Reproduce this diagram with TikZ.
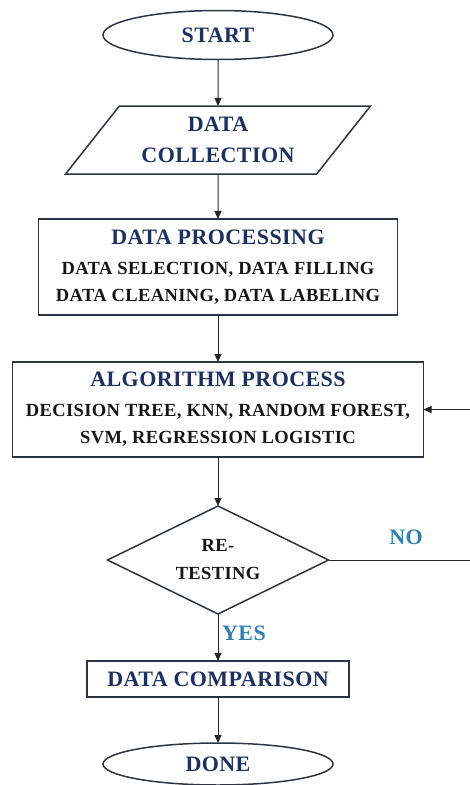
\documentclass[tikz,border=0pt]{standalone}
\usepackage{fontspec}
\setmainfont{Liberation Serif}[BoldFont={Liberation Serif Bold}, LetterSpace=2]
\usetikzlibrary{shapes.geometric,arrows.meta}
\definecolor{navy}{HTML}{1F3060}
\definecolor{edgegray}{HTML}{2E3440}
\definecolor{answer}{HTML}{2F80AC}
\definecolor{ink}{HTML}{151515}
\newcommand{\hdfont}{\bfseries\fontsize{22}{30}\selectfont}
\newcommand{\bdfont}{\bfseries\fontsize{18.5}{27}\selectfont}
\begin{document}
\begin{tikzpicture}[x=1pt,y=-1pt,
  every node/.style={inner sep=0pt, outer sep=0pt},
  boxline/.style={draw=edgegray, line width=1.5pt, fill=white},
  terminal/.style={boxline, ellipse, minimum width=230pt, minimum height=49pt,
    font=\hdfont, text=navy},
  inputbox/.style={boxline, trapezium, trapezium left angle=47.6,
    trapezium right angle=132.4, trapezium stretches=true,
    minimum width=306pt, minimum height=68pt, align=center, font=\hdfont, text=navy},
  stepbox/.style={boxline, rectangle, align=center, font=\bdfont, text=ink},
  decision/.style={boxline, diamond, aspect=2.05, minimum width=221pt,
    minimum height=108pt, align=center, font=\bdfont, text=ink},
  answerlabel/.style={font=\hdfont, text=answer},
  flow/.style={draw=black!85, line width=1pt, -{Triangle[length=8pt,width=7pt]}},
  plainline/.style={draw=black!85, line width=1pt}
]
\useasboundingbox (0,0) rectangle (470,785);

\node[terminal] (start) at (218,35) {START};
\node[inputbox] (collect) at (218,140) {DATA\\[1pt]COLLECTION};
\node[stepbox, minimum width=359pt, minimum height=96pt] (proc) at (218,267)
  {\hdfont\color{navy}DATA PROCESSING\\[3pt]
   \bdfont\color{ink}DATA SELECTION, DATA FILLING\\
   \bdfont\color{ink}DATA CLEANING, DATA LABELING};
\node[stepbox, minimum width=411pt, minimum height=95pt] (algo) at (218,409.5)
  {\hdfont\color{navy}ALGORITHM PROCESS\\[3pt]
   \bdfont\color{ink}DECISION TREE, KNN, RANDOM FOREST,\\
   \bdfont\color{ink}SVM, REGRESSION LOGISTIC};
\node[decision] (retest) at (218,560) {RE-\\[1pt]TESTING};
\node[stepbox, minimum width=262pt, minimum height=36pt, font=\hdfont, text=navy]
  (compare) at (218,679) {DATA COMPARISON};
\node[terminal, minimum height=42pt] (done) at (218,764) {DONE};

% main flow
\draw[flow] (start.south) -- (collect.north);
\draw[flow] (collect.south) -- (proc.north);
\draw[flow] (proc.south) -- (algo.north);
\draw[flow] (algo.south) -- (retest.north);
\draw[flow] (retest.south) -- (compare.north);
\draw[flow] (compare.south) -- (done.north);

% loop back for re-testing
\coordinate (loop) at (478,560);
\draw[flow] (retest.east) -- (loop) |- (algo.east);

\node[answerlabel] (no) at (406,537) {NO};
\node[answerlabel] (yes) at (244,633) {YES};
\end{tikzpicture}
\end{document}
